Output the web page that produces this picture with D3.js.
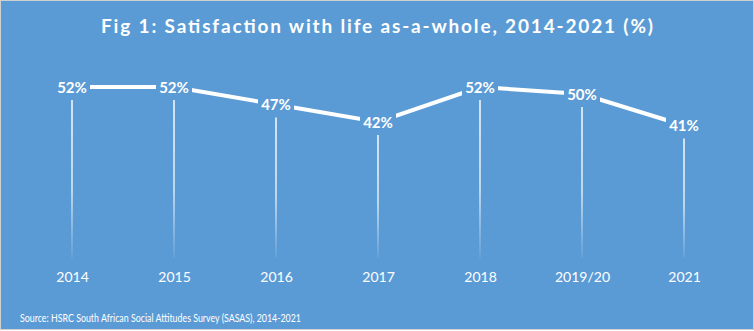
<!DOCTYPE html>
<html><head><meta charset="utf-8">
<script src="https://cdn.jsdelivr.net/npm/d3@7"></script>
<style>html,body{margin:0;padding:0;background:#fff;}svg{display:block;}</style>
</head><body>
<script>
const categories = ["2014","2015","2016","2017","2018","2019/20","2021"];
const values = [52,52,47,42,52,50,41];
const titleText = "Fig 1: Satisfaction with life as-a-whole, 2014-2021 (%)";
const sourceText = "Source: HSRC South African Social Attitudes Survey (SASAS), 2014-2021";

const W = 754, H = 331, bg = "#5b9bd5";
const font = "Lato, 'Open Sans', Arial, sans-serif";
const svg = d3.select("body").append("svg").attr("width", W).attr("height", H);
svg.append("rect").attr("x",0.5).attr("y",0.5).attr("width",W-1).attr("height",H-2)
  .attr("fill",bg).attr("stroke","#d0d0d0").attr("stroke-width",1);

const defs = svg.append("defs");
const grad = defs.append("linearGradient").attr("id","drop").attr("x1",0).attr("y1",0).attr("x2",0).attr("y2",1)
  .attr("gradientUnits","objectBoundingBox");
grad.append("stop").attr("offset","0").attr("stop-color","#ffffff").attr("stop-opacity",0.75);
grad.append("stop").attr("offset","0.6").attr("stop-color","#ffffff").attr("stop-opacity",0.6);
grad.append("stop").attr("offset","1").attr("stop-color","#ffffff").attr("stop-opacity",0.05);

const x = d3.scalePoint().domain(categories).range([72,684]);
const y = d3.scaleLinear().domain([40,52]).range([129,87]);
const baseY = 258;

svg.append("text").attr("x",W/2).attr("y",33).attr("text-anchor","middle")
  .attr("fill","#fff").attr("font-family",font).attr("font-weight","bold").attr("font-size",19)
  .attr("textLength",552).attr("lengthAdjust","spacing").text(titleText);

const data = categories.map((c,i)=>({c, v:values[i]}));

svg.selectAll("rect.drop").data(data).enter().append("rect").attr("class","drop")
  .attr("x",d=>x(d.c)-1).attr("width",2)
  .attr("y",d=>y(d.v)).attr("height",d=>baseY-y(d.v))
  .attr("fill","url(#drop)");

svg.append("path").datum(data)
  .attr("d", d3.line().x(d=>x(d.c)).y(d=>y(d.v)))
  .attr("fill","none").attr("stroke","#fff").attr("stroke-width",4);

const lab = svg.selectAll("g.lab").data(data).enter().append("g").attr("class","lab")
  .attr("transform",d=>`translate(${x(d.c)},${y(d.v)})`);
lab.append("rect").attr("x",-18).attr("y",-12).attr("width",36).attr("height",25).attr("fill",bg);
lab.append("text").attr("text-anchor","middle").attr("y",5.5)
  .attr("fill","#fff").attr("font-family",font).attr("font-weight","bold").attr("font-size",15)
  .text(d=>d.v+"%");

const xAxis = svg.append("g").attr("transform",`translate(0,${baseY})`)
  .call(d3.axisBottom(x).tickSize(0).tickPadding(14));
xAxis.select(".domain").remove();
xAxis.selectAll("text").attr("fill","#fff").attr("font-family",font).attr("font-size",14);

svg.append("text").attr("x",20).attr("y",322).attr("fill","#fff")
  .attr("font-family",font).attr("font-size",12)
  .attr("textLength",281).attr("lengthAdjust","spacingAndGlyphs").text(sourceText);
</script>
</body></html>
